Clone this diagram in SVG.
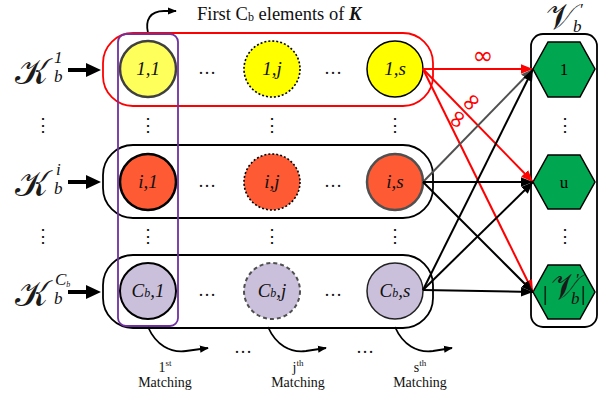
<svg xmlns="http://www.w3.org/2000/svg" width="608" height="398" viewBox="0 0 608 398">
  <style>
    .serif { font-family: "Liberation Serif", "DejaVu Serif", serif; }
    .lbl { font-family: "Liberation Serif", "DejaVu Serif", serif; font-style: italic; font-size: 19px; text-anchor: middle; fill: #111; }
    .script { font-family: "DejaVu Serif", "DejaVu Sans", "Noto Sans", serif; font-size: 36px; fill: #1a1a1a; }
    .sup { font-family: "Liberation Serif", serif; font-style: italic; font-size: 17px; fill: #111; }
    .dots { font-family: "Liberation Serif", serif; font-size: 18px; text-anchor: middle; fill: #111; }
    .row { fill: none; stroke: #000; stroke-width: 1.8; }
    .y { fill: #ffff00; }
    .o { fill: #fe5a34; }
    .p { fill: #cbc0db; }
    .hex { fill: #00a650; stroke: #000; stroke-width: 1.5; }
    .edge { fill: none; stroke-width: 2; }
    .red { stroke: #ff0000; }
    .blk { stroke: #000; }
    .gry { stroke: #505050; }
    .inf { font-family: "DejaVu Sans", sans-serif; font-size: 25px; fill: #ff0000; text-anchor: middle; }
    .cap { font-family: "Liberation Serif", serif; font-size: 14px; text-anchor: middle; fill: #111; }
  </style>
  <defs>
    <marker id="ahR" viewBox="0 0 10 10" refX="10" refY="5" markerWidth="6" markerHeight="6" orient="auto" markerUnits="strokeWidth">
      <path d="M0,1 L10,5 L0,9 Z" fill="#ff0000"/>
    </marker>
    <marker id="ahK" viewBox="0 0 10 10" refX="10" refY="5" markerWidth="6" markerHeight="6" orient="auto" markerUnits="strokeWidth">
      <path d="M0,1 L10,5 L0,9 Z" fill="#000"/>
    </marker>
    <marker id="ahG" viewBox="0 0 10 10" refX="10" refY="5" markerWidth="6" markerHeight="6" orient="auto" markerUnits="strokeWidth">
      <path d="M0,1 L10,5 L0,9 Z" fill="#505050"/>
    </marker>
    <marker id="ahS" viewBox="0 0 10 10" refX="9" refY="5" markerWidth="5" markerHeight="5" orient="auto" markerUnits="strokeWidth">
      <path d="M0,1 L10,5 L0,9 Z" fill="#000"/>
    </marker>
  </defs>

  <!-- heading over the first column -->
  <path d="M148,33 C145,20 150,11 164,11 L176,11" fill="none" stroke="#000" stroke-width="1.8" marker-end="url(#ahS)"/>
  <text x="197" y="20" class="serif" font-size="18.5" fill="#111">First C<tspan font-size="12" dy="1">b</tspan><tspan dy="-1"> elements of </tspan><tspan font-weight="bold" font-style="italic">K</tspan></text>

  <!-- row labels -->
  <g id="label-row1">
    <text x="15" y="84" class="script">𝒦</text>
    <text x="54" y="63" class="sup">1</text>
    <text x="54" y="82" class="sup">b</text>
    <path d="M68,70 L88,70" stroke="#000" stroke-width="4"/>
    <path d="M86,63 L101,70 L86,77 Z" fill="#000"/>
  </g>
  <g id="label-row2">
    <text x="15" y="196" class="script">𝒦</text>
    <text x="56" y="175" class="sup">i</text>
    <text x="54" y="194" class="sup">b</text>
    <path d="M68,182 L88,182" stroke="#000" stroke-width="4"/>
    <path d="M86,175 L101,182 L86,189 Z" fill="#000"/>
  </g>
  <g id="label-row3">
    <text x="15" y="306" class="script">𝒦</text>
    <text x="55" y="285" class="sup" font-size="12">C<tspan font-size="8" dy="2">b</tspan></text>
    <text x="54" y="304" class="sup">b</text>
    <path d="M68,292 L88,292" stroke="#000" stroke-width="4"/>
    <path d="M86,285 L101,292 L86,299 Z" fill="#000"/>
  </g>

  <!-- row frames -->
  <rect id="row1" x="103" y="33" width="330" height="73" rx="30" fill="none" stroke="#ff0000" stroke-width="1.8"/>
  <rect id="row2" x="103" y="145" width="330" height="73" rx="30" class="row"/>
  <rect id="row3" x="103" y="255" width="330" height="73" rx="30" class="row"/>

  <!-- vertical ellipses between rows -->
  <g class="dots">
    <text x="43" y="131">⋮</text><text x="148" y="131">⋮</text><text x="272" y="131">⋮</text><text x="395" y="131">⋮</text>
    <text x="43" y="242">⋮</text><text x="148" y="242">⋮</text><text x="272" y="242">⋮</text><text x="395" y="242">⋮</text>
    <text x="565" y="131">⋮</text><text x="565" y="242">⋮</text>
  </g>

  <!-- row 1 elements -->
  <g id="n-1-1"><circle cx="148" cy="69" r="28" fill="#ffff5c" stroke="#404040" stroke-width="2.5"/><text x="148" y="75" class="lbl">1,1</text></g>
  <g id="n-1-j"><circle cx="272" cy="69" r="28" class="y" stroke="#000" stroke-width="1.6" stroke-dasharray="2,2"/><text x="272" y="75" class="lbl">1,j</text></g>
  <g id="n-1-s"><circle cx="395" cy="69" r="28" class="y" stroke="#000" stroke-width="1.5"/><text x="395" y="75" class="lbl">1,s</text></g>
  <text x="207" y="74" class="dots">…</text>
  <text x="333" y="74" class="dots">…</text>

  <!-- row 2 elements -->
  <g id="n-i-1"><circle cx="148" cy="182" r="28" class="o" stroke="#000" stroke-width="2.5"/><text x="148" y="188" class="lbl">i,1</text></g>
  <g id="n-i-j"><circle cx="272" cy="182" r="28" class="o" stroke="#000" stroke-width="1.6" stroke-dasharray="2,2"/><text x="272" y="188" class="lbl">i,j</text></g>
  <g id="n-i-s"><circle cx="395" cy="182" r="28" class="o" stroke="#505050" stroke-width="2.5"/><text x="395" y="188" class="lbl">i,s</text></g>
  <text x="207" y="187" class="dots">…</text>
  <text x="333" y="187" class="dots">…</text>

  <!-- row 3 elements -->
  <g id="n-c-1"><circle cx="148" cy="291" r="28" class="p" stroke="#000" stroke-width="2"/><text x="148" y="297" class="lbl">C<tspan font-size="12">b</tspan>,1</text></g>
  <g id="n-c-j"><circle cx="272" cy="291" r="28" class="p" stroke="#505050" stroke-width="2" stroke-dasharray="4,3"/><text x="272" y="297" class="lbl">C<tspan font-size="12">b</tspan>,j</text></g>
  <g id="n-c-s"><circle cx="395" cy="291" r="28" class="p" stroke="#222" stroke-width="1.5"/><text x="395" y="297" class="lbl">C<tspan font-size="12">b</tspan>,s</text></g>
  <text x="207" y="296" class="dots">…</text>
  <text x="333" y="296" class="dots">…</text>

  <!-- first column frame -->
  <rect id="first-column" x="118" y="34" width="60" height="292" rx="8" fill="none" stroke="#7030a0" stroke-width="1.8"/>

  <!-- target column -->
  <g id="targets">
    <text x="546" y="29" class="script" font-size="20">𝒱</text>
    <text x="579" y="15" class="sup" font-size="11">′</text>
    <text x="573" y="32" class="sup" font-size="13">b</text>
    <rect x="531" y="34" width="66" height="293" rx="12" fill="none" stroke="#000" stroke-width="1.8"/>
    <g id="t-1"><polygon points="533,69 548,42 580,42 595,69 580,97 548,97" class="hex"/><text x="564" y="75" class="serif" font-size="17" text-anchor="middle">1</text></g>
    <g id="t-u"><polygon points="533,182 548,155 580,155 595,182 580,209 548,209" class="hex"/><text x="564" y="188" class="serif" font-size="17" text-anchor="middle">u</text></g>
    <g id="t-v"><polygon points="533,292 548,265 580,265 595,292 580,319 548,319" class="hex"/>
      <text x="543" y="300" class="serif" font-size="22">|</text>
      <text x="551" y="299" class="script" font-size="17">𝒱</text>
      <text x="575" y="285" class="sup" font-size="9">′</text>
      <text x="571" y="304" class="sup" font-size="10">b</text>
      <text x="581" y="300" class="serif" font-size="22">|</text>
    </g>
  </g>

  <!-- connectors -->
  <g id="connectors">
    <line x1="423" y1="69" x2="533" y2="69" class="edge red" marker-end="url(#ahR)"/>
    <line x1="423" y1="69" x2="533" y2="182" class="edge red" marker-end="url(#ahR)"/>
    <line x1="423" y1="69" x2="533" y2="292" class="edge red" marker-end="url(#ahR)"/>
    <line x1="423" y1="182" x2="533" y2="69" class="edge gry" marker-end="url(#ahG)"/>
    <line x1="423" y1="182" x2="533" y2="182" class="edge blk" marker-end="url(#ahK)"/>
    <line x1="423" y1="182" x2="533" y2="292" class="edge blk" marker-end="url(#ahK)"/>
    <line x1="423" y1="290" x2="533" y2="69" class="edge blk" marker-end="url(#ahK)"/>
    <line x1="423" y1="290" x2="533" y2="182" class="edge blk" marker-end="url(#ahK)"/>
    <line x1="423" y1="290" x2="533" y2="292" class="edge blk" marker-end="url(#ahK)"/>
    <text x="483" y="64" class="inf">∞</text>
    <text x="0" y="0" class="inf" transform="translate(471,102) rotate(-45)" dy="8">∞</text>
    <text x="0" y="0" class="inf" transform="translate(457,119) rotate(-62)" dy="8">∞</text>
  </g>

  <!-- matching rounds -->
  <g id="matching">
    <path d="M148,327 C156,345 170,353 186,351 L208,348" fill="none" stroke="#000" stroke-width="1.8" marker-end="url(#ahS)"/>
    <path d="M268,327 C276,345 290,353 306,351 L326,348" fill="none" stroke="#000" stroke-width="1.8" marker-end="url(#ahS)"/>
    <path d="M395,327 C403,345 417,353 433,351 L452,348" fill="none" stroke="#000" stroke-width="1.8" marker-end="url(#ahS)"/>
    <text x="243" y="353" class="dots">…</text>
    <text x="365" y="353" class="dots">…</text>
    <text x="165" y="372" class="cap">1<tspan font-size="9" dy="-6">st</tspan></text>
    <text x="165" y="387" class="cap">Matching</text>
    <text x="298" y="372" class="cap">j<tspan font-size="9" dy="-6">th</tspan></text>
    <text x="298" y="387" class="cap">Matching</text>
    <text x="420" y="372" class="cap">s<tspan font-size="9" dy="-6">th</tspan></text>
    <text x="420" y="387" class="cap">Matching</text>
  </g>
</svg>
